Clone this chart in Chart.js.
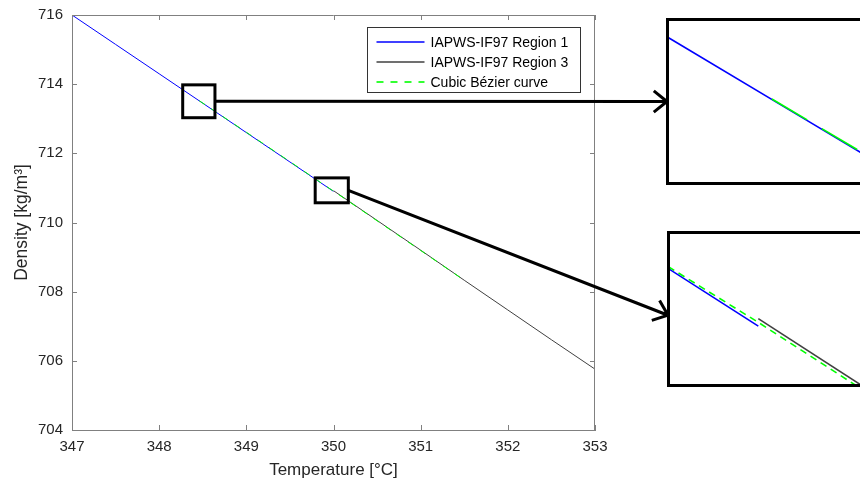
<!DOCTYPE html>
<html><head><meta charset="utf-8">
<script src="https://cdn.jsdelivr.net/npm/chart.js@4.4.1/dist/chart.umd.min.js"></script>
<style>
html,body{margin:0;padding:0;background:#fff;overflow:hidden;width:860px;height:485px;}
#wrap{position:relative;width:860px;height:485px;overflow:hidden;}
#main{position:absolute;left:0;top:0;}
.inset{position:absolute;border:3px solid #000;box-sizing:border-box;background:#fff;overflow:hidden;}
#in1{left:666px;top:18px;width:240px;height:167px;}
#in2{left:667px;top:231px;width:240px;height:156px;}
.inset canvas{position:absolute;left:0;top:0;}
</style></head>
<body>
<div id="wrap">
  <canvas id="main" width="860" height="485"></canvas>
  <div class="inset" id="in1"><canvas id="c1" width="211" height="161"></canvas></div>
  <div class="inset" id="in2"><canvas id="c2" width="210" height="150"></canvas></div>
</div>
<script>
// ---- data ----
const temperatureTicks = [347, 348, 349, 350, 351, 352, 353];
const densityTicks = [704, 706, 708, 710, 712, 714, 716];
const seriesLabels = ['IAPWS-IF97 Region 1', 'IAPWS-IF97 Region 3', 'Cubic Bézier curve'];
const region1T = [347, 347.5, 348, 348.5, 349, 349.5, 350];
const region1Rho = [716, 715.15, 714.3, 713.45, 712.6, 711.75, 710.9];
const region3T = [350, 350.5, 351, 351.5, 352, 352.5, 353];
const region3Rho = [710.92, 710.06, 709.2, 708.33, 707.47, 706.61, 705.76];
const bezierT = [348.46, 349, 349.5, 349.91, 350, 350.1, 350.5, 351, 351.5];
const bezierRho = [713.52, 712.61, 711.76, 711.058, 710.91, 710.738, 710.05, 709.19, 708.33];
// zoom regions (data units)
const zoomBox1T = [348.27, 348.64];
const zoomBox1Rho = [713.03, 713.98];
const zoomBox2T = [349.79, 350.17];
const zoomBox2Rho = [710.57, 711.29];
const inset1T = [348.30, 348.628];
const inset1Rho = [713.153, 713.865];
const inset2T = [349.9117, 350.1217];
const inset2Rho = [710.746, 711.145];

const FONT = 'Liberation Sans, Arial, sans-serif';
const pts = (xs, ys) => xs.map((x, i) => ({x, y: ys[i]}));

function makeDatasets(w, dash) {
  return [
    {label: seriesLabels[0], data: pts(region1T, region1Rho), borderColor: '#0000ff', borderWidth: w, order: 2},
    {label: seriesLabels[1], data: pts(region3T, region3Rho), borderColor: '#404040', borderWidth: w, order: 1},
    {label: seriesLabels[2], data: pts(bezierT, bezierRho), borderColor: '#00ff00', borderWidth: w, borderDash: dash, order: 0}
  ].map(d => Object.assign(d, {pointRadius: 0, fill: false, tension: 0}));
}

function arrow(ctx, x1, y1, x2, y2) {
  const a = Math.atan2(y2 - y1, x2 - x1), L = 17, h = 0.68;
  ctx.beginPath();
  ctx.moveTo(x1, y1); ctx.lineTo(x2, y2);
  ctx.moveTo(x2 - L * Math.cos(a - h), y2 - L * Math.sin(a - h));
  ctx.lineTo(x2, y2);
  ctx.lineTo(x2 - L * Math.cos(a + h), y2 - L * Math.sin(a + h));
  ctx.stroke();
}

const decor = {
  id: 'decor',
  afterDraw(chart) {
    const {ctx, chartArea: ca, scales: {x, y}} = chart;
    ctx.save();
    // box border top/right + inner ticks
    ctx.strokeStyle = '#808080'; ctx.lineWidth = 1;
    ctx.beginPath();
    ctx.moveTo(ca.left, ca.top + 0.5); ctx.lineTo(ca.right, ca.top + 0.5);
    ctx.moveTo(ca.right - 0.5, ca.top); ctx.lineTo(ca.right - 0.5, ca.bottom);
    x.ticks.forEach(t => {
      const px = Math.round(x.getPixelForValue(t.value)) + 0.5;
      ctx.moveTo(px, ca.bottom); ctx.lineTo(px, ca.bottom - 5);
      ctx.moveTo(px, ca.top); ctx.lineTo(px, ca.top + 5);
    });
    y.ticks.forEach(t => {
      const py = Math.round(y.getPixelForValue(t.value)) + 0.5;
      ctx.moveTo(ca.left, py); ctx.lineTo(ca.left + 5, py);
      ctx.moveTo(ca.right, py); ctx.lineTo(ca.right - 5, py);
    });
    ctx.stroke();

    // legend
    const lw = 213, lh = 65;
    const lx = Math.round(ca.right - 15 - lw) + 0.5, ly = Math.round(ca.top + 12) + 0.5;
    ctx.fillStyle = '#fff'; ctx.fillRect(lx, ly, lw, lh);
    ctx.strokeStyle = '#333'; ctx.lineWidth = 1; ctx.strokeRect(lx, ly, lw, lh);
    ctx.font = '14px ' + FONT; ctx.textBaseline = 'middle'; ctx.textAlign = 'left';
    const rowY = [14, 34, 54];
    chart.data.datasets.forEach((d, i) => {
      const yy = Math.round(ly + rowY[i]);
      ctx.strokeStyle = d.borderColor; ctx.lineWidth = 1.6;
      ctx.setLineDash(d.borderDash ? [7, 7] : []);
      ctx.beginPath(); ctx.moveTo(lx + 9, yy); ctx.lineTo(lx + 57, yy); ctx.stroke();
      ctx.setLineDash([]);
      ctx.fillStyle = '#000'; ctx.fillText(d.label, lx + 63, yy + 1);
    });

    // zoom boxes
    ctx.strokeStyle = '#000'; ctx.lineWidth = 3;
    const boxes = [[zoomBox1T, zoomBox1Rho], [zoomBox2T, zoomBox2Rho]];
    const rects = boxes.map(([bt, br]) => {
      const x1 = x.getPixelForValue(bt[0]), x2 = x.getPixelForValue(bt[1]);
      const y1 = y.getPixelForValue(br[1]), y2 = y.getPixelForValue(br[0]);
      ctx.strokeRect(x1, y1, x2 - x1, y2 - y1);
      return {x2, ym: (y1 + y2) / 2};
    });
    // arrows to insets
    const i1 = document.getElementById('in1'), i2 = document.getElementById('in2');
    ctx.lineWidth = 3; ctx.lineCap = 'butt'; ctx.lineJoin = 'miter';
    arrow(ctx, rects[0].x2, rects[0].ym, i1.offsetLeft + 1, i1.offsetTop + i1.offsetHeight * 0.5);
    arrow(ctx, rects[1].x2, rects[1].ym, i2.offsetLeft + 1, i2.offsetTop + i2.offsetHeight * 0.54);
    ctx.restore();
  }
};

const tickFont = {family: FONT, size: 15};
const titleFont = {family: FONT, size: 17};
new Chart(document.getElementById('main'), {
  type: 'line',
  data: {datasets: makeDatasets(1, [7, 7])},
  options: {
    responsive: false, animation: false, devicePixelRatio: 1,
    layout: {padding: {top: 15, right: 265, bottom: 0, left: 0}},
    plugins: {legend: {display: false}, tooltip: {enabled: false}},
    scales: {
      x: {
        type: 'linear', position: 'bottom', min: 347, max: 353,
        afterBuildTicks: s => { s.ticks = temperatureTicks.map(v => ({value: v})); },
        afterFit: s => { s.height = 55; s.paddingLeft = 0; s.paddingRight = 0; },
        grid: {display: true, drawOnChartArea: false, drawTicks: false},
        border: {display: true, color: '#808080', width: 1},
        ticks: {padding: 8, color: '#262626', font: tickFont, maxRotation: 0, autoSkip: false},
        title: {display: true, text: 'Temperature [°C]', color: '#262626', font: titleFont, padding: {top: 0, bottom: 4}}
      },
      y: {
        type: 'linear', position: 'left', min: 704, max: 716,
        afterBuildTicks: s => { s.ticks = densityTicks.map(v => ({value: v})); },
        afterFit: s => { s.width = 72; s.paddingTop = 0; s.paddingBottom = 0; },
        grid: {display: true, drawOnChartArea: false, drawTicks: false},
        border: {display: true, color: '#808080', width: 1},
        ticks: {padding: 9, color: '#262626', font: tickFont, autoSkip: false},
        title: {display: true, text: 'Density [kg/m³]', color: '#262626', font: {family: FONT, size: 17.5}, padding: {top: 12, bottom: 0}}
      }
    }
  },
  plugins: [decor]
});

function insetChart(id, tr, rr, dash) {
  new Chart(document.getElementById(id), {
    type: 'line',
    data: {datasets: makeDatasets(1.6, dash)},
    options: {
      responsive: false, animation: false, devicePixelRatio: 1,
      layout: {padding: 0},
      plugins: {legend: {display: false}, tooltip: {enabled: false}},
      scales: {
        x: {type: 'linear', display: false, min: tr[0], max: tr[1]},
        y: {type: 'linear', display: false, min: rr[0], max: rr[1]}
      }
    }
  });
}
insetChart('c1', inset1T, inset1Rho, [41, 17]);
insetChart('c2', inset2T, inset2Rho, [7, 5]);
</script>
</body></html>
